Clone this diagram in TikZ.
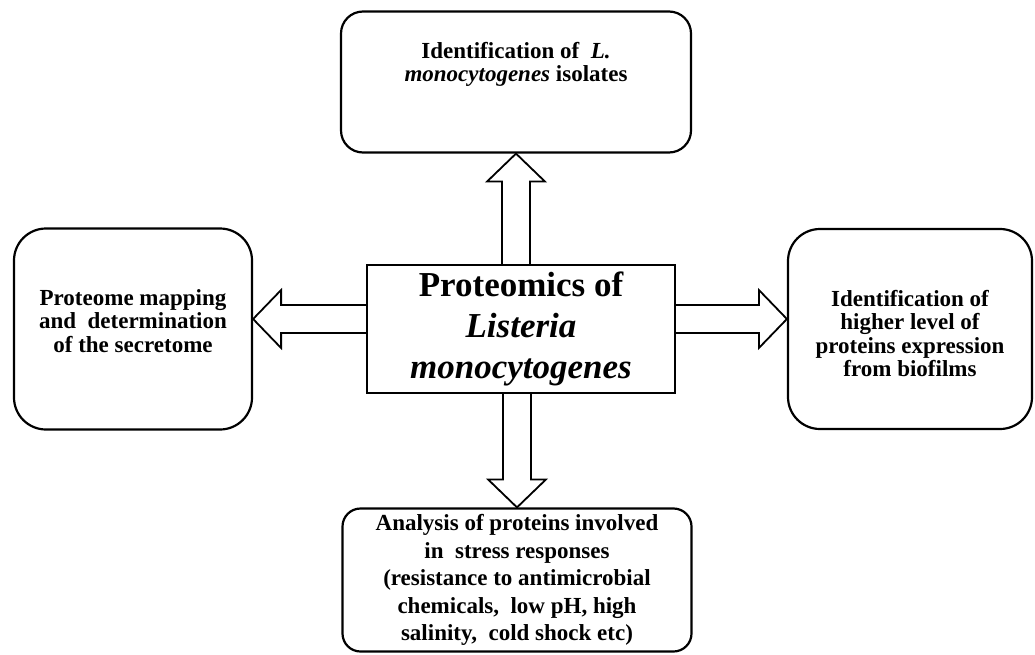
\documentclass[tikz,border=0pt]{standalone}
\usepackage{fontspec}
\setmainfont{Liberation Serif}
\usetikzlibrary{calc}

\tikzset{
  box/.style={draw, line width=2.2pt, rounded corners=#1, align=center,
    font=\bfseries\fontsize{23}{23.5}\selectfont},
  box/.default=20pt,
  hubbox/.style={draw, line width=2.2pt, align=center,
    font=\bfseries\fontsize{35}{41}\selectfont},
  fatarr/.style={draw, line width=1.8pt, line join=miter},
}

% hohler Blockpfeil von #1 nach #2
\newcommand{\fatarrow}[2]{%
  \coordinate (ah) at ($(#2)!28pt!(#1)$);
  \draw[fatarr] ($(#1)!14pt!90:(#2)$) -- ($(ah)!14pt!90:(#2)$) -- ($(ah)!29pt!90:(#2)$)
    -- (#2) -- ($(ah)!29pt!-90:(#2)$) -- ($(ah)!14pt!-90:(#2)$) -- ($(#1)!14pt!-90:(#2)$);
}

\begin{document}
\begin{tikzpicture}[x=1pt, y=-1pt]
\useasboundingbox (0,0) rectangle (1035,655);

% Mitte
\node[hubbox, minimum width=308pt, minimum height=128pt] (ctr) at (521,329) {Proteomics of\\\textit{Listeria}\\\textit{monocytogenes}};

% Kaesten
\node[box=22pt, minimum width=350pt, minimum height=141pt, text depth=40pt] (top) at (516,82) {Identification of\ \ \textit{L.}\\\textit{monocytogenes} isolates}; % oben
\node[box=32pt, minimum width=238pt, minimum height=201pt, text depth=16pt] (lft) at (133,329) {Proteome mapping\\and\ \ determination\\of the secretome}; % links
\node[box=32pt, minimum width=244pt, minimum height=200pt, text height=96pt] (rgt) at (910,329) {Identification of\\higher level of\\proteins expression\\from biofilms}; % rechts
\node[box=18pt, minimum width=349pt, minimum height=143pt, font=\bfseries\fontsize{23}{27.5}\selectfont] (bot) at (517,580) {Analysis of proteins involved\\in\ \ stress responses\\(resistance to antimicrobial\\chemicals,\ \ low pH, high\\salinity,\ \ cold shock etc)}; % unten

% Pfeile
\coordinate (lsrc) at ([yshift=10pt]ctr.west);
\coordinate (ltip) at (lsrc -| lft.east);
\coordinate (rsrc) at ([yshift=10pt]ctr.east);
\coordinate (rtip) at (rsrc -| rgt.west);

\fatarrow{top.south |- ctr.north}{top.south} % nach oben
\fatarrow{bot.north |- ctr.south}{bot.north} % nach unten
\fatarrow{lsrc}{ltip} % nach links
\fatarrow{rsrc}{rtip} % nach rechts

\end{tikzpicture}
\end{document}
